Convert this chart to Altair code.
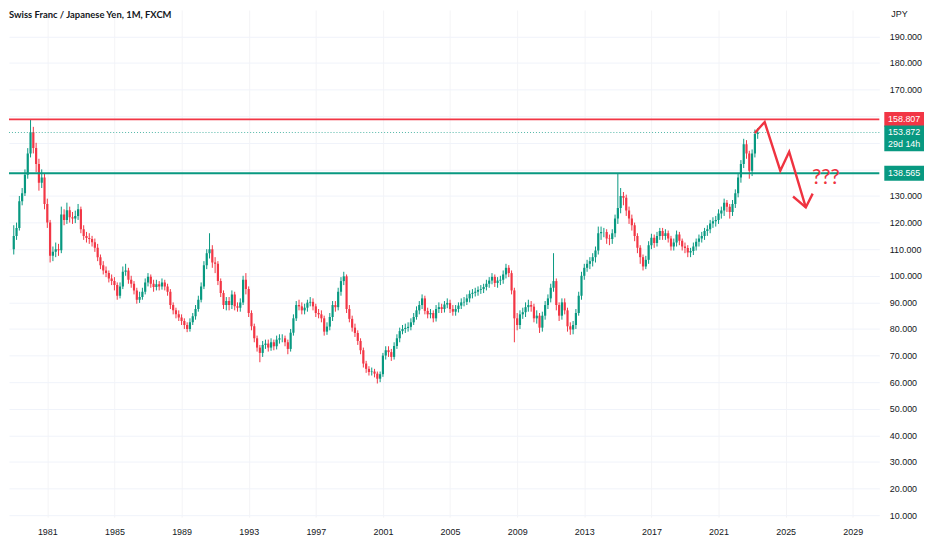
import altair as alt
import pandas as pd

# ---------------- data ----------------
start_year = 1979.0          # first bar
bar_step = 1 / 6             # two-month bars
first_open = 110.0

closes = [
    115, 118, 128, 131, 138, 146, 154, 148, 142, 135,
    137, 127, 120, 107.5, 109, 110, 109.6, 123, 121, 124.6,
    122, 121.5, 122.5, 125, 117.5, 115, 114.2, 113.8, 112.6, 110.5,
    107, 104, 102, 101, 99, 98, 96.5, 92.5, 96, 101.5,
    102, 98.5, 97, 94.5, 91, 92, 94, 97.5, 99.6, 97,
    95.8, 96.8, 96, 97.5, 96, 94, 89, 87, 85.5, 84.3,
    83, 81.5, 80, 82.5, 84.8, 87.5, 91, 96, 104, 108.5,
    110, 105, 104.5, 98, 93.5, 89, 90.5, 89, 93, 88.5,
    88, 90, 98.5, 95, 86, 81, 76.5, 73, 71, 74,
    74.5, 73, 75, 73.5, 76, 76.5, 76.5, 75, 72.5, 78.6,
    84, 89, 88.5, 87, 88, 89.9, 90.2, 88.5, 86, 85.5,
    84, 79, 80.9, 84.5, 89, 88.2, 94, 98, 99.8, 87.5,
    83.8, 80.5, 78.5, 75.5, 72, 67, 65, 63.8, 64, 63.2,
    61.3, 63, 70, 72, 71.3, 69.5, 73.6, 76.5, 79.2, 80,
    80.4, 80.8, 82.5, 84.5, 87, 89, 91.5, 86.8, 85.5, 86,
    84, 87.5, 88.2, 87.5, 89.2, 89.8, 87.5, 86.5, 87.5, 88.8,
    90, 90.2, 91.5, 93.2, 93.6, 94, 94.7, 95, 95.8, 97,
    98.2, 99.6, 97.3, 98.2, 98.5, 100.5, 103, 101, 94.5, 84,
    81.5, 85.5, 86.3, 88.2, 89, 88.4, 84, 85, 80.5, 85,
    89, 91.5, 95.5, 98, 89, 85, 90, 87, 81, 79.8,
    81.5, 86, 92.5, 100, 103, 104.5, 105.5, 107, 109.5, 116,
    116.5, 116.5, 114, 113.8, 116, 121.5, 125.5, 130, 129.3, 124.5,
    121.5, 119, 115, 110.5, 107, 103.5, 106, 111.5, 114.3, 112.3,
    115, 116.8, 115, 116, 114, 111, 112.5, 115.5, 113.2, 111,
    110.4, 108.8, 109.3, 111, 112.8, 114, 115, 116.8, 117.5, 119.7,
    120.5, 121, 123.4, 124.5, 127.5, 126, 124, 127, 131, 137,
    142, 149.5, 146, 139.5, 146, 153.3, 153.9,
]

highs = [
    119, 120, 130, 133, 140, 148, 158.8, 156, 150, 144,
    140, 138.5, 129, 121, 111, 112.5, 112, 126, 125, 127.5,
    126, 124, 124.5, 127, 126, 119, 116.5, 116, 115, 114,
    112, 108, 105.5, 103.5, 102, 100.5, 99.5, 97.5, 97.5, 103.5,
    104.5, 103, 100, 98, 95.5, 94, 95.5, 99, 101, 100.5,
    98.5, 98.5, 98, 99, 98.5, 97, 95, 90, 88, 87,
    85.5, 84, 82.5, 84, 86, 89, 92.5, 97.5, 105.5, 110,
    116, 111.5, 107, 105.5, 99, 94.5, 92, 92, 94.5, 94,
    90, 91.5, 100, 101, 96, 87, 82, 77.5, 74, 75.5,
    76, 76, 76.5, 76, 77.5, 78, 78, 77.5, 76, 80,
    85.5, 90.5, 91, 90, 89.5, 91, 92, 91.5, 89.5, 87.5,
    87, 85, 82.5, 86, 90.5, 90.5, 95.5, 99.5, 101.5, 100.5,
    89, 85, 82, 79.5, 76.5, 73, 68, 66, 65.5, 65,
    64, 64, 71, 73.5, 73.5, 72.5, 75, 78, 80.5, 81.5,
    82, 82.5, 84, 86, 88.5, 90.5, 93, 92.5, 88, 87.5,
    87, 89, 90, 89.5, 90.5, 91.5, 91, 89, 89, 90,
    91.5, 92, 93, 94.5, 95, 95.5, 96, 96.5, 97, 98.5,
    99.5, 101, 100.5, 99.5, 100, 102, 104.5, 104, 102, 95.5,
    86, 87, 88, 90, 91, 90.5, 89.5, 87, 86, 86.5,
    90.5, 93, 97, 108.5, 99, 90, 91.5, 91.5, 88, 82.5,
    83, 87.5, 94, 101.5, 104.5, 106, 107, 108.5, 111, 118.5,
    118.5, 118, 117.5, 115.5, 117.5, 123, 138.5, 133, 131.5, 130.5,
    126, 123, 120, 116, 111.5, 108, 107.5, 113, 115.8, 115.5,
    116.5, 118, 118, 117.5, 117, 115, 114, 117, 116.5, 114,
    112.5, 111.5, 110.5, 112.5, 114, 115.5, 116.5, 118, 119, 121,
    122, 122.5, 125, 126, 129, 128.5, 127, 128.5, 132.5, 138.5,
    143.5, 151.5, 151, 147, 147.5, 155, 155.5,
]

lows = [
    108, 113.5, 117, 126.5, 130, 136.5, 144.5, 146, 139, 132,
    133, 125, 118, 105, 105.5, 107, 107.5, 108.5, 119, 119.5,
    120, 119.5, 119.8, 121, 116, 113.5, 112.5, 112, 111, 109,
    105.5, 102.5, 100.5, 99.5, 97.5, 96.5, 94.5, 91, 91.5, 95,
    100, 97, 95.5, 93, 89.5, 89.8, 91, 93, 96, 95.5,
    94, 94.5, 94.5, 94.8, 94.5, 92.5, 87.5, 85.5, 84, 83,
    81.5, 80, 78.8, 79, 81.5, 83.5, 86.5, 90, 95, 102.5,
    106.5, 103, 101, 96.5, 92, 87.5, 87, 87, 87.5, 87,
    86.5, 86.5, 89, 93, 84.5, 79.5, 75, 71.5, 67.5, 69.5,
    72.5, 71.5, 71.8, 72, 72.3, 74.5, 75, 73.5, 70.5, 71.5,
    77.5, 83, 87, 85.5, 85.5, 86.5, 88.5, 87, 84.5, 84,
    82.5, 77.5, 77.8, 79.5, 83, 86.5, 87, 92.5, 96.5, 86,
    82.5, 79, 77, 74, 70.5, 65.5, 63.5, 62.5, 62.5, 61.8,
    59.5, 60, 62, 68.5, 69.5, 68, 68.5, 72.5, 75, 78,
    78.5, 79, 79.5, 81.5, 83.5, 85.5, 87.5, 85.5, 84, 84,
    82.5, 82.8, 86, 86, 86.2, 87.8, 86, 85, 85, 86.2,
    87.5, 88.5, 89, 90, 91.5, 92.2, 92.5, 93.2, 93.5, 94.5,
    95.5, 96.8, 95.8, 95.5, 96.5, 97, 99, 99.5, 93, 75,
    79.5, 80, 83.8, 84.5, 86.5, 86.5, 82.5, 82, 78.5, 79,
    83.5, 87.5, 90, 94, 87, 83, 83.5, 85.5, 79, 77.8,
    78, 80, 85, 91, 98.5, 101.5, 102.5, 103.5, 105, 108,
    113.5, 114.5, 112, 111.5, 112, 114.5, 119.5, 123.5, 126.5, 122.5,
    119.5, 117, 113, 108.5, 104.5, 102, 102.5, 104.5, 110, 110.5,
    111, 113.5, 113.5, 113.5, 112.5, 109.5, 109.5, 111, 111.5, 109.5,
    108.5, 107, 107, 107.8, 109.5, 111, 112.5, 113.5, 115, 116,
    118, 118.5, 119.5, 121.5, 122.5, 124, 121.5, 122.5, 125.5, 129.5,
    135, 140.5, 144, 136.5, 137.5, 144.5, 151.5,
]

level_prices = [158.807, 138.565]
level_names = ["resistance", "support"]
last_price = 153.872
countdown = "29d 14h"

arrow_years = [2023.16, 2023.75, 2024.68, 2025.21, 2026.20]
arrow_values = [153.7, 157.8, 139.5, 146.6, 125.7]
head_years = [2025.44, 2026.20, 2026.61]
head_values = [129.8, 125.7, 130.9]
question_year = 2027.4
question_value = 136.6

year_ticks = list(range(1981, 2030, 4))
price_ticks = list(range(10, 200, 10))
covered_ticks = [140, 150, 160]   # hidden behind the price boxes
title_text = "Swiss Franc / Japanese Yen, 1M, FXCM"

# ---------------- styling ----------------
UP = "#089981"
DOWN = "#f23645"
TXT = "#131722"
FONT = "Liberation Sans"
W, H = 877, 511

years = [start_year + i * bar_step for i in range(len(closes))]
opens = [first_open] + closes[:-1]
candles = pd.DataFrame({"t": years, "o": opens, "c": closes, "h": highs, "l": lows})
candles["dir"] = ["up" if c >= o else "down" for o, c in zip(opens, closes)]

xs = alt.Scale(domain=[1979.012, 2030.287], nice=False, zero=False)
ys = alt.Scale(domain=[9.25, 199.93], nice=False, zero=False)

hidden_expr = " || ".join(f"datum.value == {v}" for v in covered_ticks)
xaxis = alt.Axis(values=year_ticks, format="d", grid=True, gridColor="#f4f4f6",
                 domain=False, ticks=False, labelPadding=11, labelFontSize=9,
                 labelColor=TXT, labelFont=FONT, labelOverlap=False, labelFlush=False)
yaxis = alt.Axis(values=price_ticks, format=".3f", orient="right", grid=True,
                 gridColor="#f0f3fa", domain=False, ticks=False, labelPadding=10,
                 labelFontSize=9, labelColor=TXT, labelFont=FONT, labelOverlap=False,
                 labelFlush=False,
                 labelExpr=f"({hidden_expr}) ? '' : format(datum.value, '.3f')")

X = alt.X("t:Q", scale=xs, axis=xaxis, title=None)
# one shared colour scale for candles and level lines/boxes
color_scale = alt.Scale(domain=["up", "down", "resistance", "support"], range=[UP, DOWN, DOWN, UP])

wicks = alt.Chart(candles).mark_rule(strokeWidth=1, clip=True).encode(
    x=X,
    y=alt.Y("l:Q", scale=ys, axis=yaxis, title=None),
    y2="h:Q",
    color=alt.Color("dir:N", scale=color_scale, legend=None),
)
bodies = alt.Chart(candles).mark_bar(size=2.2, clip=True).encode(
    x=X,
    y=alt.Y("o:Q", scale=ys, axis=yaxis, title=None),
    y2="c:Q",
    color=alt.Color("dir:N", scale=color_scale, legend=None),
)

levels = pd.DataFrame({"price": level_prices, "dir": level_names,
                       "lab": [f"{p:.3f}" for p in level_prices]})
level_lines = alt.Chart(levels).mark_rule(strokeWidth=2).encode(
    y=alt.Y("price:Q", scale=ys, axis=yaxis, title=None),
    color=alt.Color("dir:N", scale=color_scale, legend=None),
)

last_df = pd.DataFrame({"price": [last_price], "lab": [f"{last_price:.3f}"], "cd": [countdown]})
last_line = alt.Chart(last_df).mark_rule(strokeWidth=1, strokeDash=[1, 2], color=UP, opacity=0.7).encode(
    y=alt.Y("price:Q", scale=ys, axis=yaxis, title=None),
)

# arrow annotation
arrow_df = pd.DataFrame({
    "t": arrow_years + head_years,
    "v": arrow_values + head_values,
    "seg": ["path"] * len(arrow_years) + ["head"] * len(head_years),
    "ord": list(range(len(arrow_years))) + list(range(len(head_years))),
})
arrow = alt.Chart(arrow_df).mark_line(color="#ef3340", strokeWidth=2.4, strokeJoin="miter").encode(
    x=X,
    y=alt.Y("v:Q", scale=ys, axis=yaxis, title=None),
    detail="seg:N",
    order="ord:Q",
)
q_df = pd.DataFrame({"t": [question_year], "v": [question_value], "s": ["???"]})
question = alt.Chart(q_df).mark_text(color="#ef3340", fontSize=21, font="Lato",
                                      baseline="middle", align="center").encode(
    x=X, y=alt.Y("v:Q", scale=ys, axis=yaxis, title=None), text="s:N")

# price boxes on the right axis
box_x, box_x2, box_mid = W + 5, W + 45, W + 25
level_boxes = alt.Chart(levels).mark_rect(yOffset=-7.5, y2Offset=7.5).encode(
    x=alt.value(box_x), x2=alt.value(box_x2),
    y=alt.Y("price:Q", scale=ys, axis=yaxis, title=None), y2="price:Q",
    color=alt.Color("dir:N", scale=color_scale, legend=None),
)
level_text = alt.Chart(levels).mark_text(color="white", fontSize=9, font=FONT, baseline="middle").encode(
    x=alt.value(box_mid), y=alt.Y("price:Q", scale=ys, axis=yaxis, title=None), text="lab:N")

last_box = alt.Chart(last_df).mark_rect(yOffset=-7, y2Offset=19, color=UP).encode(
    x=alt.value(box_x), x2=alt.value(box_x2),
    y=alt.Y("price:Q", scale=ys, axis=yaxis, title=None), y2="price:Q",
)
last_text = alt.Chart(last_df).mark_text(color="white", fontSize=9, font=FONT, baseline="middle").encode(
    x=alt.value(box_mid), y=alt.Y("price:Q", scale=ys, axis=yaxis, title=None), text="lab:N")
cd_text = alt.Chart(last_df).mark_text(color="white", fontSize=9, font=FONT, baseline="middle", dy=12).encode(
    x=alt.value(box_mid), y=alt.Y("price:Q", scale=ys, axis=yaxis, title=None), text="cd:N")

# title and currency label
lab_df = pd.DataFrame({"title": [title_text], "cur": ["JPY"]})
title = alt.Chart(lab_df).mark_text(align="left", baseline="middle", fontSize=9.5, font="Lato",
                                     color=TXT, fontWeight="bold").encode(
    x=alt.value(0), y=alt.value(5), text="title:N")
currency = alt.Chart(lab_df).mark_text(align="left", baseline="middle", fontSize=9, font=FONT,
                                        color=TXT).encode(
    x=alt.value(W + 12), y=alt.value(4), text="cur:N")

chart = alt.layer(
    wicks, bodies, level_lines, last_line, arrow, question,
    level_boxes, level_text, last_box, last_text, cd_text, title, currency,
).properties(width=W, height=H, padding=0, background="white").configure_view(stroke=None)

chart.save("out.html", embed_options={"renderer": "svg", "actions": False})
